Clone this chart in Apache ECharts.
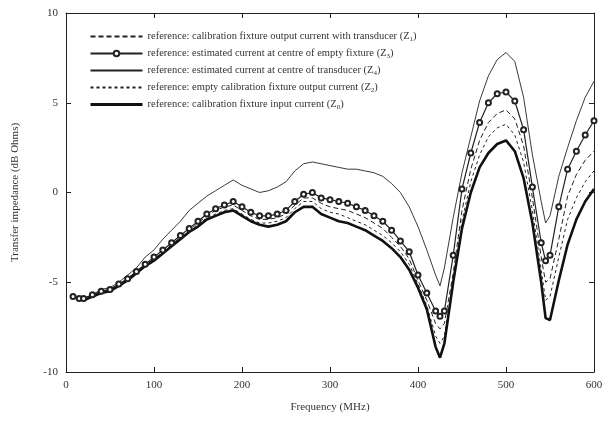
<!DOCTYPE html>
<html>
<head>
<meta charset="utf-8">
<script src="https://cdn.jsdelivr.net/npm/echarts@6/dist/echarts.min.js"></script>
<style>
  html, body { margin: 0; padding: 0; background: #fff; }
  #chart { width: 609px; height: 423px; }
</style>
</head>
<body>
<div id="chart"></div>
<script>
// frequency points (MHz)
var freq = [8, 15, 20, 30, 40, 50, 60, 70, 80, 90, 100, 110, 120, 130, 140, 150, 160, 170, 180, 190,
    200, 210, 220, 230, 240, 250, 260, 270, 280, 290, 300, 310, 320, 330, 340, 350, 360, 370, 380, 390,
    400, 410, 420, 425, 430, 440, 450, 460, 470, 480, 490, 500, 510, 520, 530, 540, 545, 550, 560, 570,
    580, 590, 600];

// Z1: calibration fixture output current with transducer
var z1 = [-5.8, -5.9, -6.0, -5.8, -5.5, -5.4, -5.1, -4.8, -4.4, -4.0, -3.7, -3.3, -2.9, -2.5, -2.1, -1.7, -1.3, -1.0, -0.8, -0.7,
    -1.0, -1.3, -1.5, -1.5, -1.4, -1.2, -0.7, -0.3, -0.3, -0.6, -0.8, -0.9, -1.0, -1.2, -1.4, -1.7, -2.0, -2.5, -3.0, -3.7,
    -4.9, -6.0, -7.3, -7.6, -7.3, -4.5, -1.0, 1.3, 2.9, 3.9, 4.4, 4.6, 4.1, 2.6, -0.3, -3.6, -5.0, -4.8, -2.6, -0.2,
    1.0, 1.8, 2.3];

// Z3: estimated current at centre of empty fixture
var z3 = [-5.8, -5.9, -5.9, -5.7, -5.5, -5.4, -5.1, -4.8, -4.4, -4.0, -3.6, -3.2, -2.8, -2.4, -2.0, -1.6, -1.2, -0.9, -0.7, -0.5,
    -0.8, -1.1, -1.3, -1.3, -1.2, -1.0, -0.5, -0.1, 0.0, -0.3, -0.4, -0.5, -0.6, -0.8, -1.0, -1.3, -1.6, -2.1, -2.7, -3.3,
    -4.6, -5.6, -6.6, -6.9, -6.6, -3.5, 0.2, 2.2, 3.9, 5.0, 5.5, 5.6, 5.1, 3.5, 0.3, -2.8, -3.8, -3.5, -0.8, 1.3,
    2.3, 3.2, 4.0];

// Z4: estimated current at centre of transducer
var z4 = [-5.8, -5.8, -5.9, -5.7, -5.4, -5.3, -5.0, -4.6, -4.2, -3.6, -3.2, -2.6, -2.1, -1.6, -1.0, -0.6, -0.2, 0.1, 0.4, 0.7,
    0.4, 0.2, 0.0, 0.1, 0.3, 0.6, 1.2, 1.6, 1.7, 1.6, 1.5, 1.4, 1.3, 1.3, 1.2, 1.1, 0.9, 0.5, 0.0, -0.8,
    -1.9, -3.2, -4.6, -5.2, -4.2, -1.4, 1.1, 3.1, 5.1, 6.5, 7.4, 7.8, 7.3, 5.3, 2.1, -0.5, -1.7, -1.3, 0.9, 2.5,
    4.0, 5.3, 6.2];

// Z2: empty calibration fixture output current
var z2 = [-5.8, -5.9, -6.0, -5.8, -5.6, -5.5, -5.2, -4.9, -4.5, -4.1, -3.8, -3.4, -3.0, -2.6, -2.2, -1.8, -1.4, -1.2, -1.0, -0.9,
    -1.2, -1.5, -1.7, -1.7, -1.6, -1.4, -0.9, -0.5, -0.5, -0.9, -1.1, -1.2, -1.4, -1.6, -1.8, -2.1, -2.4, -2.8, -3.3, -4.0,
    -5.1, -6.3, -8.0, -8.4, -8.0, -4.9, -1.6, 0.6, 2.1, 3.1, 3.6, 3.8, 3.2, 1.7, -1.0, -4.3, -6.0, -5.8, -3.6, -1.5,
    -0.3, 0.6, 1.2];

// Z0: calibration fixture input current
var z0 = [-5.8, -5.9, -6.0, -5.8, -5.6, -5.5, -5.2, -4.9, -4.5, -4.1, -3.8, -3.4, -3.0, -2.6, -2.2, -1.9, -1.5, -1.3, -1.1, -1.0,
    -1.3, -1.6, -1.8, -1.9, -1.8, -1.6, -1.1, -0.8, -0.8, -1.2, -1.4, -1.6, -1.7, -1.9, -2.1, -2.4, -2.7, -3.1, -3.6, -4.3,
    -5.3, -6.5, -8.6, -9.2, -8.4, -5.0, -2.0, 0.0, 1.4, 2.2, 2.7, 2.9, 2.3, 0.8, -1.7, -5.0, -7.0, -7.1, -4.9, -2.9,
    -1.5, -0.5, 0.2];

var names = [
    "reference: calibration fixture output current with transducer (Z1)",
    "reference: estimated current at centre of empty fixture (Z3)",
    "reference: estimated current at centre of transducer (Z4)",
    "reference: empty calibration fixture output current (Z2)",
    "reference: calibration fixture input current (Z0)"
];

var pairs = function(vals) {
    return freq.map(function(f, i) { return [f, vals[i]]; });
};

var font = "Liberation Serif";
var ink = "#222";
var hidden = { opacity: 0 };

var chart = echarts.init(document.getElementById("chart"));

var tickStyle = { inside: true, length: 5, lineStyle: { color: ink } };

var option = {
    animation: false,
    backgroundColor: "#fff",
    textStyle: { fontFamily: font },
    grid: { left: 66, right: 15, top: 13, bottom: 51 },
    legend: {
        data: [
            { name: names[0], itemStyle: hidden },
            { name: names[1] },
            { name: names[2], itemStyle: hidden },
            { name: names[3], itemStyle: hidden },
            { name: names[4], itemStyle: hidden, lineStyle: { width: 3 } }
        ],
        orient: "vertical",
        left: 84,
        top: 26,
        itemWidth: 52,
        itemHeight: 7,
        itemGap: 5.5,
        textStyle: {
            fontFamily: font,
            fontSize: 10.5,
            color: "#333",
            rich: {
                s: { fontFamily: font, fontSize: 7, color: "#333", padding: [5, 0, 0, 0] }
            }
        },
        formatter: function(name) {
            return name.replace(/\(Z(\d)\)/, "(Z{s|$1})");
        }
    },
    xAxis: [
        {
            type: "value",
            min: 0,
            max: 600,
            interval: 100,
            name: "Frequency (MHz)",
            nameLocation: "middle",
            nameGap: 30,
            nameTextStyle: { fontFamily: font, fontSize: 11, color: "#333" },
            axisLine: { onZero: false, lineStyle: { color: ink, width: 1 } },
            axisTick: tickStyle,
            axisLabel: { fontFamily: font, fontSize: 11, color: "#333", margin: 8 },
            splitLine: { show: false }
        },
        {
            type: "value",
            position: "top",
            min: 0,
            max: 600,
            interval: 100,
            axisLine: { onZero: false, lineStyle: { color: ink, width: 1 } },
            axisTick: tickStyle,
            axisLabel: { show: false },
            splitLine: { show: false }
        }
    ],
    yAxis: [
        {
            type: "value",
            min: -10,
            max: 10,
            interval: 5,
            name: "Transfer impedance (dB Ohms)",
            nameLocation: "middle",
            nameGap: 45,
            nameTextStyle: { fontFamily: font, fontSize: 11, color: "#333" },
            axisLine: { show: true, onZero: false, lineStyle: { color: ink, width: 1 } },
            axisTick: Object.assign({ show: true }, tickStyle),
            axisLabel: { fontFamily: font, fontSize: 11, color: "#333", margin: 8 },
            splitLine: { show: false }
        },
        {
            type: "value",
            position: "right",
            min: -10,
            max: 10,
            interval: 5,
            axisLine: { show: true, onZero: false, lineStyle: { color: ink, width: 1 } },
            axisTick: Object.assign({ show: true }, tickStyle),
            axisLabel: { show: false },
            splitLine: { show: false }
        }
    ],
    series: [
        {
            name: names[0],
            type: "line",
            symbol: "none",
            lineStyle: { color: ink, width: 1, type: [5, 3] },
            itemStyle: { color: ink },
            data: pairs(z1)
        },
        {
            name: names[1],
            type: "line",
            symbol: "emptyCircle",
            symbolSize: 5,
            lineStyle: { color: ink, width: 1.2 },
            itemStyle: { color: ink, borderColor: ink, borderWidth: 1 },
            data: pairs(z3)
        },
        {
            name: names[2],
            type: "line",
            symbol: "none",
            lineStyle: { color: ink, width: 0.9 },
            itemStyle: { color: ink },
            data: pairs(z4)
        },
        {
            name: names[3],
            type: "line",
            symbol: "none",
            lineStyle: { color: ink, width: 1, type: [3, 3] },
            itemStyle: { color: ink },
            data: pairs(z2)
        },
        {
            name: names[4],
            type: "line",
            symbol: "none",
            lineStyle: { color: "#111", width: 2.6 },
            itemStyle: { color: "#111" },
            data: pairs(z0)
        }
    ]
};

chart.setOption(option);
</script>
</body>
</html>
